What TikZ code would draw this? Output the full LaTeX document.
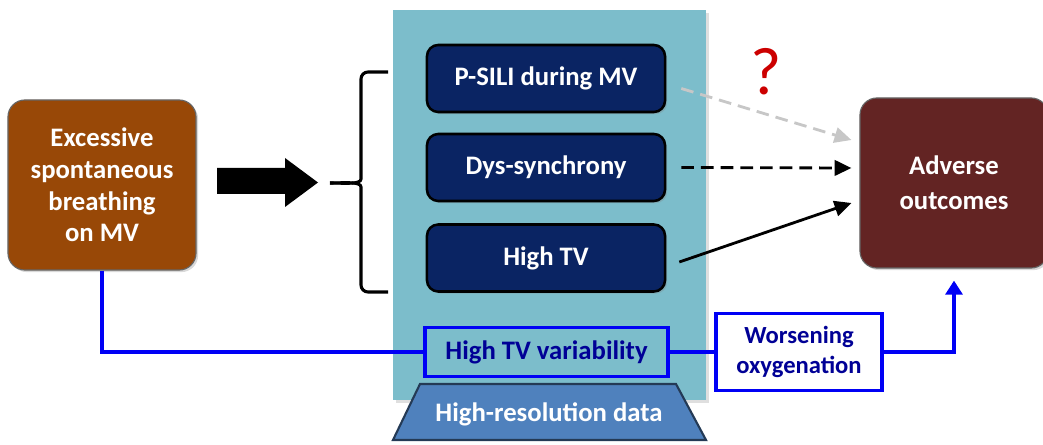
\documentclass[tikz,border=0pt]{standalone}
\usepackage{fontspec}
\setmainfont{Carlito}
\usetikzlibrary{calc,arrows.meta,shadows}
\definecolor{panelteal}{RGB}{124,189,203}
\definecolor{brownbox}{RGB}{152,72,7}
\definecolor{maroonbox}{RGB}{99,36,35}
\definecolor{navybox}{RGB}{10,36,99}
\definecolor{trapblue}{RGB}{79,129,189}
\definecolor{linkblue}{RGB}{0,0,245}
\definecolor{textblue}{RGB}{0,0,150}
\definecolor{qred}{RGB}{204,0,0}
\begin{document}
\begin{tikzpicture}[x=0.025cm,y=-0.025cm,
	bigbox/.style={draw=black!60,line width=0.8pt,rounded corners=12pt,text=white,align=center,
		font=\fontsize{19}{22.5}\selectfont\bfseries,minimum width=4.7cm,minimum height=4.25cm,
		drop shadow={opacity=0.3,shadow xshift=1.5pt,shadow yshift=-1.5pt}},
	factor/.style={fill=navybox,draw=black,line width=1.8pt,rounded corners=8pt,text=white,
		font=\fontsize{19}{22}\selectfont\bfseries,minimum width=5.95cm,minimum height=1.675cm,
		drop shadow={opacity=0.3,shadow xshift=1.5pt,shadow yshift=-1.5pt}},
	bluebox/.style={draw=linkblue,line width=2.4pt,text=textblue,align=center,inner sep=0pt},
	link/.style={linkblue,line width=2.6pt},
	effect/.style={line width=2pt,-{Triangle[length=12pt,width=11pt]}},
	brace/.style={line width=2.2pt,rounded corners=5pt}]
	\useasboundingbox (0,0) rectangle (1043,445);
	% panel behind the factors
	\fill[panelteal,drop shadow={opacity=0.25,shadow xshift=2pt,shadow yshift=-2pt}] (393,10) rectangle (706,400);
	\node[bigbox,fill=brownbox] (exc) at (102,185) {Excessive\\spontaneous\\breathing\\on MV};
	\node[bigbox,fill=maroonbox,font=\fontsize{19}{25}\selectfont\bfseries] (adv) at (954,183) {Adverse\\outcomes};
	\node[factor] (psili) at (546,78.5) {P-SILI during MV};
	\node[factor] (dys) at (546,167.5) {Dys-synchrony};
	\node[factor] (htv) at (546,258) {High TV};
	% big arrow and brace
	\fill (217,168) -- (285,168) -- (285,158) -- (318,182.5) -- (285,207) -- (285,194) -- (217,194) -- cycle;
	\draw[brace] (388,72) -- (361,72) -- (361,172) to[out=-90,in=0] (330,183);
	\draw[brace] (330,183) to[out=0,in=90] (361,194) -- (361,292) -- (388,292);
	% links to the outcomes
	\draw[effect,black!22,dashed,dash pattern=on 9pt off 5pt] ($(psili.east)+(15,10)$) -- ($(adv.west)+(-8,-43)$);
	\draw[effect,dashed,dash pattern=on 9pt off 5pt] ($(dys.east)+(15,0)$) -- ($(adv.west)+(-8,-15)$);
	\draw[effect] ($(htv.east)+(13,4)$) -- ($(adv.west)+(-8,20)$);
	\node[text=qred,font=\fontsize{48}{48}\selectfont] (qmark) at (766,72) {?};
	% data trapezoid
	\draw[fill=trapblue,draw=trapblue!45!black,line width=1.5pt] (393,440) -- (420,384) -- (676,384) -- (706,440) -- cycle;
	\node[text=white,font=\fontsize{19}{22}\selectfont\bfseries] (hrd) at (549,414) {High-resolution data};
	% blue path
	\node[bluebox,minimum width=6.075cm,minimum height=1.225cm,font=\fontsize{19}{22}\selectfont\bfseries] (htvv) at (546.5,352) {High TV variability};
	\node[bluebox,fill=white,minimum width=4.15cm,minimum height=1.925cm,font=\fontsize{17.5}{21}\selectfont\bfseries] (wors) at (799,352) {Worsening\\oxygenation};
	\coordinate (advin) at ($(adv.south)+(0,12)$);
	\draw[link] (exc.south) |- (htvv.west);
	\draw[link] (htvv.east) -- (wors.west);
	\draw[link,-{Triangle[length=10pt,width=12pt]}] (wors.east) -| (advin);
\end{tikzpicture}
\end{document}
